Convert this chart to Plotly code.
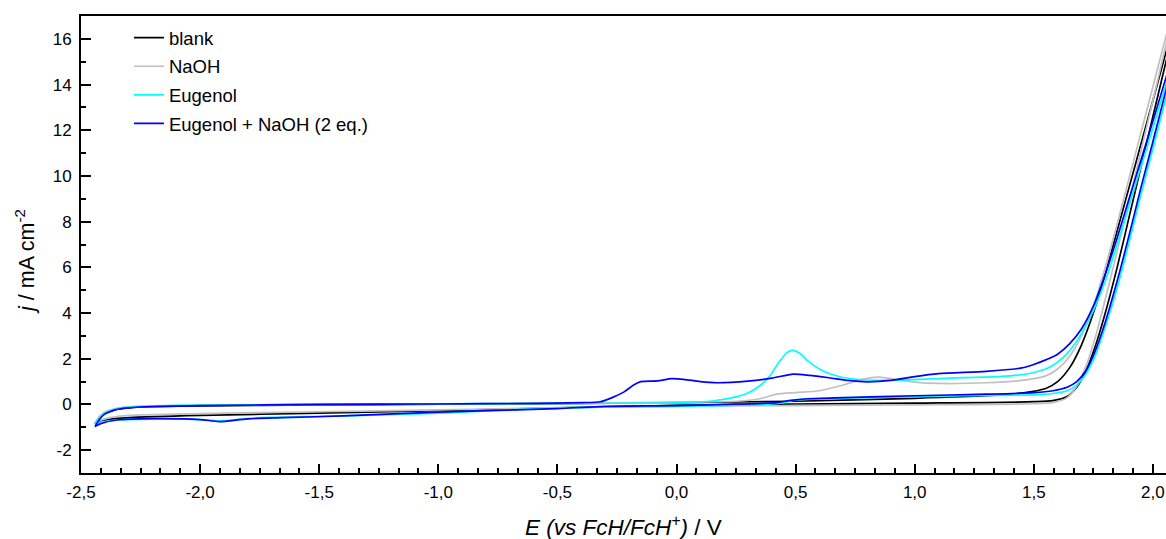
import plotly.graph_objects as go

# ---------------- data ----------------
blank_E = [-2.44, -2.42, -2.40, -2.37, -2.34, -2.30, -2.20, -2.00, -1.50, -1.00, -0.50, 0.00, 0.50, 1.00, 1.30, 1.45,
           1.55, 1.60, 1.65, 1.70, 1.75, 1.80, 1.85, 1.90, 1.95, 2.00, 2.12,
           2.00, 1.95, 1.90, 1.85, 1.80, 1.76, 1.72, 1.68, 1.64, 1.58, 1.50, 1.00, 0.50, 0.00, -0.50, -1.00,
           -1.50, -2.00, -2.30, -2.38, -2.42, -2.44]
blank_j = [-0.82, -0.55, -0.40, -0.28, -0.20, -0.15, -0.10, -0.06, -0.02, 0.01, 0.03, 0.08, 0.14, 0.27, 0.38, 0.50,
           0.70, 1.00, 1.60, 2.60, 4.00, 5.70, 7.60, 9.50, 11.40, 13.30, 17.90,
           12.60, 10.40, 8.20, 6.00, 4.00, 2.60, 1.50, 0.75, 0.35, 0.17, 0.12, 0.06, 0.02, -0.04, -0.15, -0.27,
           -0.38, -0.48, -0.58, -0.65, -0.74, -0.82]

naoh_E = [-2.44, -2.42, -2.40, -2.37, -2.34, -2.30, -2.20, -2.00, -1.50, -1.00, -0.50, 0.00, 0.25, 0.35, 0.42, 0.50,
          0.60, 0.70, 0.78, 0.85, 0.92, 1.00, 1.10, 1.30, 1.45, 1.55, 1.60, 1.65, 1.70, 1.75, 1.80, 1.85, 1.90,
          1.95, 2.00, 2.12,
          2.00, 1.95, 1.90, 1.85, 1.80, 1.76, 1.72, 1.68, 1.64, 1.58, 1.50, 1.00, 0.50, 0.00, -0.50, -1.00,
          -1.50, -2.00, -2.30, -2.38, -2.42, -2.44]
naoh_j = [-0.80, -0.50, -0.33, -0.22, -0.15, -0.10, -0.06, -0.03, 0.00, 0.02, 0.05, 0.10, 0.14, 0.25, 0.45, 0.52,
          0.60, 0.85, 1.10, 1.20, 1.10, 0.98, 0.92, 0.95, 1.05, 1.25, 1.55, 2.10, 3.00, 4.30, 6.00, 7.90, 9.90,
          11.90, 13.90, 18.70,
          13.30, 11.10, 8.90, 6.70, 4.60, 3.00, 1.70, 0.80, 0.30, 0.08, 0.03, -0.02, -0.05, -0.08, -0.14, -0.24,
          -0.32, -0.40, -0.48, -0.58, -0.70, -0.80]

eug_E = [-2.44, -2.42, -2.40, -2.37, -2.34, -2.30, -2.20, -2.00, -1.50, -1.00, -0.50, 0.00, 0.15, 0.25, 0.30, 0.35,
         0.39, 0.43, 0.465, 0.49, 0.52, 0.55, 0.60, 0.65, 0.70, 0.80, 0.90, 1.00, 1.20, 1.35, 1.45, 1.55, 1.60,
         1.65, 1.70, 1.75, 1.80, 1.85, 1.90, 1.95, 2.00, 2.12,
         2.00, 1.95, 1.90, 1.85, 1.80, 1.76, 1.72, 1.68, 1.64, 1.58, 1.50, 1.20, 0.80, 0.60, 0.50, 0.45, 0.40,
         0.20, 0.00, -0.50, -1.00, -1.20, -1.50, -1.75, -1.85, -1.92, -2.00, -2.20, -2.35, -2.42, -2.44]
eug_j = [-0.85, -0.55, -0.38, -0.25, -0.17, -0.12, -0.07, -0.03, 0.00, 0.03, 0.05, 0.07, 0.15, 0.33, 0.50, 0.82,
         1.22, 1.85, 2.28, 2.37, 2.22, 1.92, 1.55, 1.32, 1.18, 1.07, 1.06, 1.09, 1.17, 1.22, 1.30, 1.55, 1.85,
         2.35, 3.10, 4.10, 5.40, 7.00, 8.70, 10.40, 12.10, 16.20,
         11.20, 9.20, 7.10, 5.10, 3.40, 2.20, 1.35, 0.85, 0.60, 0.48, 0.42, 0.38, 0.30, 0.25, 0.20, 0.08, 0.02,
         -0.05, -0.08, -0.15, -0.38, -0.45, -0.52, -0.58, -0.66, -0.72, -0.66, -0.64, -0.68, -0.78, -0.85]

mix_E = [-2.44, -2.42, -2.40, -2.37, -2.34, -2.30, -2.20, -2.00, -1.50, -1.00, -0.60, -0.40, -0.32, -0.27, -0.22,
         -0.18, -0.15, -0.08, -0.02, 0.03, 0.10, 0.17, 0.30, 0.40, 0.49, 0.56, 0.64, 0.72, 0.80, 0.90, 1.00,
         1.10, 1.30, 1.45, 1.50, 1.55, 1.60, 1.65, 1.70, 1.75, 1.80, 1.85, 1.90, 1.95, 2.00, 2.12,
         2.00, 1.95, 1.90, 1.85, 1.80, 1.76, 1.72, 1.68, 1.64, 1.58, 1.50, 1.30, 1.00, 0.70, 0.55, 0.48, 0.42,
         0.20, 0.00, -0.30, -0.50, -1.00, -1.40, -1.65, -1.80, -1.92, -2.00, -2.20, -2.35, -2.42, -2.44]
mix_j = [-0.96, -0.62, -0.42, -0.28, -0.20, -0.15, -0.09, -0.05, 0.00, 0.02, 0.05, 0.08, 0.12, 0.30, 0.55,
         0.85, 1.00, 1.03, 1.13, 1.10, 1.00, 0.95, 1.02, 1.15, 1.33, 1.27, 1.17, 1.05, 0.99, 1.05, 1.22,
         1.35, 1.45, 1.60, 1.75, 1.95, 2.20, 2.65, 3.30, 4.30, 5.70, 7.30, 9.00, 10.70, 12.40, 16.50,
         11.50, 9.50, 7.40, 5.40, 3.60, 2.40, 1.50, 1.00, 0.75, 0.60, 0.52, 0.45, 0.38, 0.30, 0.25, 0.18, 0.08,
         0.00, -0.05, -0.08, -0.18, -0.34, -0.50, -0.58, -0.63, -0.75, -0.66, -0.62, -0.68, -0.85, -0.96]

series_names = ["blank", "NaOH", "Eugenol", "Eugenol + NaOH (2 eq.)"]
series_E = [blank_E, naoh_E, eug_E, mix_E]
series_j = [blank_j, naoh_j, eug_j, mix_j]
series_colors = ["#000000", "#c0c0c0", "#00ffff", "#0000ff"]

x_tickvals = [-2.5, -2.0, -1.5, -1.0, -0.5, 0.0, 0.5, 1.0, 1.5, 2.0]
x_ticktext = ["-2,5", "-2,0", "-1,5", "-1,0", "-0,5", "0,0", "0,5", "1,0", "1,5", "2,0"]
y_tickvals = [-2, 0, 2, 4, 6, 8, 10, 12, 14, 16]
y_ticktext = ["-2", "0", "2", "4", "6", "8", "10", "12", "14", "16"]

FONT = "Arial, 'Liberation Sans', sans-serif"

fig = go.Figure()
for name, E, j, c in zip(series_names, series_E, series_j, series_colors):
    fig.add_trace(go.Scatter(x=E, y=j, mode="lines", name=name, legendgroup=name,
                             line=dict(color=c, width=1.7, shape="spline", smoothing=0.7)))

fig.update_layout(
    width=1166, height=539,
    margin=dict(l=81, r=0, t=16, b=66),
    paper_bgcolor="white", plot_bgcolor="white",
    font=dict(family=FONT, color="black", size=17),
    showlegend=True,
    legend=dict(x=0.0442, y=0.993, xanchor="left", yanchor="top",
                bgcolor="rgba(0,0,0,0)", font=dict(size=18.5, family=FONT),
                tracegroupgap=1.5),
    xaxis=dict(range=[-2.5, 2.055], showgrid=False, zeroline=False,
               showline=True, linecolor="black", linewidth=2, mirror=True,
               ticks="inside", ticklen=9, tickwidth=1.5, tickcolor="black",
               tickvals=x_tickvals, ticktext=x_ticktext, ticklabelstandoff=3,
               tickfont=dict(size=17, family=FONT),
               minor=dict(ticks="inside", ticklen=5, tickwidth=1.5, tickcolor="black",
                          tick0=-2.5, dtick=0.5 / 6)),
    yaxis=dict(range=[-3, 17], showgrid=False, zeroline=False,
               showline=True, linecolor="black", linewidth=2, mirror=False,
               ticks="inside", ticklen=10, tickwidth=1.5, tickcolor="black",
               tickvals=y_tickvals, ticktext=y_ticktext, ticklabelstandoff=4,
               tickfont=dict(size=17, family=FONT),
               minor=dict(ticks="inside", ticklen=5, tickwidth=1.5, tickcolor="black",
                          tick0=-3, dtick=1)),
    annotations=[
        dict(text="<i>j</i> / mA cm<sup>-2</sup>", xref="paper", yref="paper",
             x=-0.0516, y=0.462, xanchor="center", yanchor="middle", textangle=-90,
             showarrow=False, font=dict(size=21.5, family=FONT)),
        dict(text="<i>E (vs FcH/FcH<sup>+</sup>)</i> / V", xref="paper", yref="paper",
             x=0.5, y=-0.117, xanchor="center", yanchor="middle",
             showarrow=False, font=dict(size=22.5, family=FONT)),
    ],
)

# remove the default page margin so the 1166x539 figure fills the window exactly
fig.write_html("out.html",
               config={"displayModeBar": False},
               post_script="document.body.style.margin='0';document.body.style.overflow='hidden';")
